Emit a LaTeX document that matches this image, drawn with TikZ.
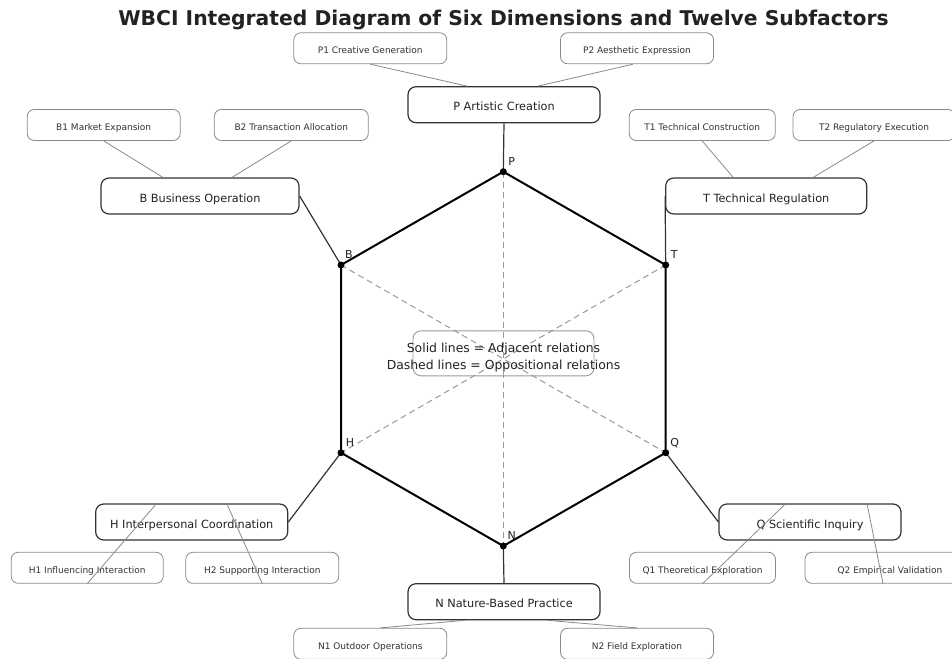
\documentclass[tikz,border=0pt]{standalone}
\usepackage{fontspec}
\setmainfont{DejaVu Sans}
\usetikzlibrary{calc}
\definecolor{dk}{HTML}{222222}
\definecolor{boxedge}{HTML}{333333}
\definecolor{subedge}{HTML}{8A8A8A}
\definecolor{subline}{HTML}{8A8A8A}
\definecolor{dashc}{HTML}{9A9A9A}
\definecolor{subtext}{HTML}{333333}
\begin{document}
\begin{tikzpicture}[x=1pt,y=-1pt,
  mainbox/.style={draw=boxedge, line width=1.2pt, rounded corners=8pt, fill=white,
    minimum height=36pt, inner sep=0pt, text=dk, text height=1.22em, text depth=0pt,
    font=\fontsize{11.3}{13}\selectfont},
  subbox/.style={draw=subedge, line width=0.8pt, rounded corners=7pt, fill=white,
    minimum height=31pt, inner sep=0pt, text=subtext, text height=1.04em, text depth=0pt,
    font=\fontsize{9}{11}\selectfont},
  hexedge/.style={draw=black, line width=2pt, line join=round},
  vconn/.style={draw=boxedge, line width=1.2pt},
  sconn/.style={draw=subline, line width=0.8pt},
  oppo/.style={draw=dashc, line width=1pt, dash pattern=on 6pt off 4pt},
  vlab/.style={font=\fontsize{11}{13}\selectfont, text=dk, inner sep=0pt, text height=0.73em, text depth=0pt},
  vdot/.style={fill=black}
]
\useasboundingbox (0,0) rectangle (952,658);
\clip (0,0) rectangle (952,658);
\fill[white] (0,0) rectangle (952,658);

% title
\node[font=\bfseries\fontsize{20.3}{24}\selectfont, text=dk, anchor=base, inner sep=0pt] (title) at (503.5,26)
  {WBCI Integrated Diagram of Six Dimensions and Twelve Subfactors};

% hexagon vertices
\coordinate (vP) at (503.3,171.7);
\coordinate (vT) at (665.7,265);
\coordinate (vQ) at (665.7,452.7);
\coordinate (vN) at (503.3,546);
\coordinate (vH) at (341,452.7);
\coordinate (vB) at (341,265);

% oppositional (dashed) relations
\draw[oppo] (vP) -- (vN);
\draw[oppo] (vB) -- (vQ);
\draw[oppo] (vT) -- (vH);

% adjacent relations
\draw[hexedge] (vP) -- (vT) -- (vQ) -- (vN) -- (vH) -- (vB) -- cycle;

% main boxes (positions)
\coordinate (cP) at (504,104.7);
\coordinate (cB) at (200,196);
\coordinate (cT) at (766.2,196);
\coordinate (cH) at (191.7,522);
\coordinate (cQ) at (810,522);
\coordinate (cN) at (504,601.7);

% vertex-to-box connectors (drawn below boxes)
\path (cP) node[mainbox, minimum width=192pt, draw=none, fill=none] (P0) {\phantom{P}};
\path (cB) node[mainbox, minimum width=198pt, draw=none, fill=none] (B0) {\phantom{B}};
\path (cT) node[mainbox, minimum width=201pt, draw=none, fill=none] (T0) {\phantom{T}};
\path (cH) node[mainbox, minimum width=192pt, draw=none, fill=none] (H0) {\phantom{H}};
\path (cQ) node[mainbox, minimum width=182pt, draw=none, fill=none] (Q0) {\phantom{Q}};
\path (cN) node[mainbox, minimum width=192pt, draw=none, fill=none] (N0) {\phantom{N}};
\draw[vconn] (P0.south) -- (vP);
\draw[vconn] (B0.east) -- (vB);
\draw[vconn] (T0.west) -- (vT);
\draw[vconn] (H0.east) -- (vH);
\draw[vconn] (Q0.west) -- (vQ);
\draw[vconn] (N0.north) -- (vN);

% main dimension boxes
\node[mainbox, minimum width=192pt] (P) at (cP) {P Artistic Creation};
\node[mainbox, minimum width=198pt] (B) at (cB) {B Business Operation};
\node[mainbox, minimum width=201pt] (T) at (cT) {T Technical Regulation};
\node[mainbox, minimum width=192pt] (H) at (cH) {H Interpersonal Coordination};
\node[mainbox, minimum width=182pt] (Q) at (cQ) {Q Scientific Inquiry};
\node[mainbox, minimum width=192pt] (N) at (cN) {N Nature-Based Practice};

% subfactor boxes
\node[subbox, minimum width=153pt] (P1) at (370.3,48.3) {P1 Creative Generation};
\node[subbox, minimum width=153pt] (P2) at (637,48.3) {P2 Aesthetic Expression};
\node[subbox, minimum width=153pt] (B1) at (103.7,125) {B1 Market Expansion};
\node[subbox, minimum width=154pt] (B2) at (291.3,125) {B2 Transaction Allocation};
\node[subbox, minimum width=146pt] (T1) at (702.2,125) {T1 Technical Construction};
\node[subbox, minimum width=162pt] (T2) at (874,125) {T2 Regulatory Execution};
\node[subbox, minimum width=152pt] (H1) at (87.2,567.8) {H1 Influencing Interaction};
\node[subbox, minimum width=153pt] (H2) at (262.3,567.8) {H2 Supporting Interaction};
\node[subbox, minimum width=146pt] (Q1) at (702.5,567.8) {Q1 Theoretical Exploration};
\node[subbox, minimum width=170pt] (Q2) at (890,567.8) {Q2 Empirical Validation};
\node[subbox, minimum width=153pt] (N1) at (370.3,643.8) {N1 Outdoor Operations};
\node[subbox, minimum width=153pt] (N2) at (637,643.8) {N2 Field Exploration};

% subfactor connectors (drawn on top)
\draw[sconn] ($(P.north)+(-37,0)$) -- (P1.south);
\draw[sconn] ($(P.north)+(34,0)$) -- ($(P2.south)+(-4,0)$);
\draw[sconn] ($(B.north)+(-37,0)$) -- (B1.south);
\draw[sconn] ($(B.north)+(32,0)$) -- (B2.south);
\draw[sconn] ($(T.north)+(-33,0)$) -- (T1.south);
\draw[sconn] ($(T.north)+(47,0)$) -- (T2.south);
\draw[sconn] ($(H.north)+(-35,0)$) -- (H1.south);
\draw[sconn] ($(H.north)+(35,0)$) -- (H2.south);
\draw[sconn] ($(Q.north)+(-24,0)$) -- (Q1.south);
\draw[sconn] ($(Q.north)+(57,0)$) -- ($(Q2.south)+(-7,0)$);
\draw[sconn] ($(N.south)+(-39,0)$) -- ($(N1.north)+(10,0)$);
\draw[sconn] ($(N.south)+(43,0)$) -- (N2.north);

% legend
\node[draw=dashc, line width=0.9pt, rounded corners=8pt, minimum width=181pt, minimum height=45pt, inner sep=0pt] (legbox) at (503.5,353.3) {};
\node[font=\fontsize{12.4}{17}\selectfont, text=dk, align=center, inner sep=0pt] (legtext) at (503.5,358)
  {Solid lines = Adjacent relations\\Dashed lines = Oppositional relations};

% vertex dots and labels
\foreach \v in {vP,vT,vQ,vN,vH,vB} { \fill[vdot] (\v) circle (3.5pt); }
\node[vlab] (lP) at ($(vP)+(8.5,-10)$) {P};
\node[vlab] (lT) at ($(vT)+(8.5,-10)$) {T};
\node[vlab] (lQ) at ($(vQ)+(9,-10)$) {Q};
\node[vlab] (lN) at ($(vN)+(8.5,-10)$) {N};
\node[vlab] (lH) at ($(vH)+(9,-10)$) {H};
\node[vlab] (lB) at ($(vB)+(8,-10)$) {B};
\end{tikzpicture}
\end{document}
